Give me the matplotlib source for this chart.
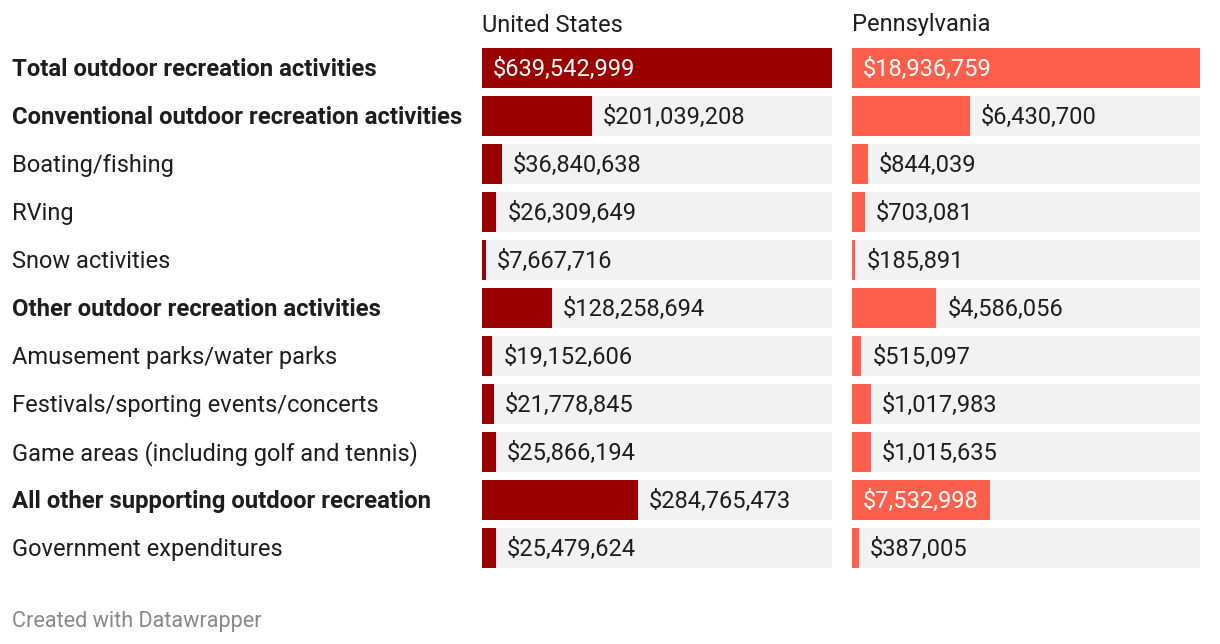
import matplotlib.pyplot as plt
from matplotlib.transforms import blended_transform_factory, offset_copy

categories = [
    "Total outdoor recreation activities",
    "Conventional outdoor recreation activities",
    "Boating/fishing",
    "RVing",
    "Snow activities",
    "Other outdoor recreation activities",
    "Amusement parks/water parks",
    "Festivals/sporting events/concerts",
    "Game areas (including golf and tennis)",
    "All other supporting outdoor recreation",
    "Government expenditures",
]
bold_rows = [0, 1, 5, 9]

us_values = [639542999, 201039208, 36840638, 26309649, 7667716, 128258694,
             19152606, 21778845, 25866194, 284765473, 25479624]
pa_values = [18936759, 6430700, 844039, 703081, 185891, 4586056,
             515097, 1017983, 1015635, 7532998, 387005]

# which value labels sit inside the bar
us_inside = [0]
pa_inside = [0, 9]

W, H = 1220, 644
plt.rcParams['font.family'] = ['Roboto', 'DejaVu Sans']
fig = plt.figure(figsize=(W / 100, H / 100), dpi=100)

text_color = '#1d1d1d'
bg_color = '#f2f2f2'
fs = 17
n = len(categories)
row_h = 40 / 48
top_px, bottom_px = 48, 568


def panel(x0, x1, values, color, inside, title):
    ax = fig.add_axes([x0 / W, 1 - bottom_px / H, (x1 - x0) / W, (bottom_px - top_px) / H])
    vmax = max(values)
    rows = list(range(n))
    ax.barh(rows, [vmax] * n, height=row_h, color=bg_color, left=0)
    ax.barh(rows, values, height=row_h, color=color, left=0)
    ax.set_xlim(0, vmax)
    ax.set_ylim(n - 1 + row_h / 2, -row_h / 2)
    ax.axis('off')
    for i, v in enumerate(values):
        label = f"${v:,}"
        if i in inside:
            ax.annotate(label, (0, i), xytext=(11, -1.5), textcoords='offset pixels',
                        ha='left', va='center', fontsize=fs, color='white')
        else:
            ax.annotate(label, (v, i), xytext=(11, -1.5), textcoords='offset pixels',
                        ha='left', va='center', fontsize=fs, color=text_color)
    fig.text(x0 / W, 1 - 25 / H, title, ha='left', va='center',
             fontsize=fs, color=text_color)
    return ax


ax_us = panel(482, 832, us_values, '#9a0000', us_inside, "United States")
ax_pa = panel(852, 1200, pa_values, '#ff5f4c', pa_inside, "Pennsylvania")

trans = blended_transform_factory(fig.transFigure, ax_us.transData)
trans = offset_copy(trans, fig=fig, x=0, y=-1.5, units='dots')
for i, cat in enumerate(categories):
    bold = i in bold_rows
    ax_us.text(12 / W, i, cat, transform=trans, ha='left', va='center',
               fontsize=17.2 if bold else fs, color=text_color,
               fontweight='bold' if bold else 'normal')

fig.text(12 / W, 1 - 621 / H, "Created with Datawrapper", ha='left', va='center',
         fontsize=15.6, color='#888888')

fig.savefig('out.png', dpi=100)
